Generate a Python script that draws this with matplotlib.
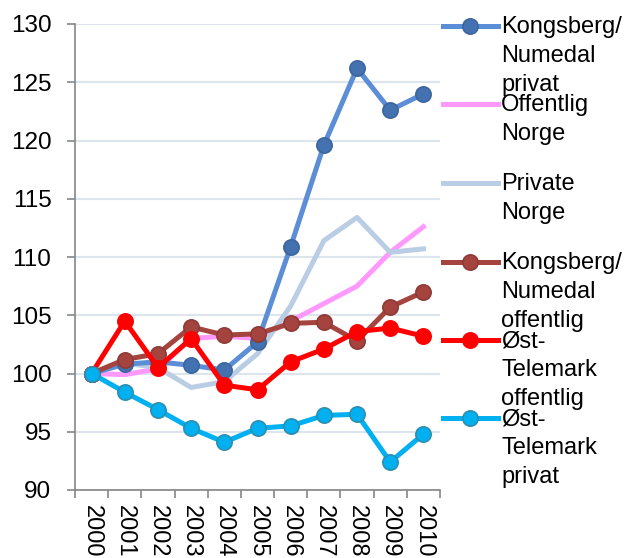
import numpy as np
import matplotlib
matplotlib.use("Agg")
import matplotlib.pyplot as plt
from matplotlib.lines import Line2D

plt.rcParams['font.family'] = ['Liberation Sans', 'DejaVu Sans']

years = ['2000', '2001', '2002', '2003', '2004', '2005',
         '2006', '2007', '2008', '2009', '2010']

kongsberg_privat = [100, 100.8, 101.0, 100.7, 100.3, 102.7, 110.9, 119.6, 126.2, 122.6, 124.0]
offentlig_norge = [100, 99.9, 100.4, 103.0, 103.2, 103.0, 104.5, 106.0, 107.5, 110.4, 112.6]
private_norge = [100, 100.9, 100.5, 98.8, 99.3, 101.7, 105.8, 111.4, 113.4, 110.4, 110.7]
kongsberg_offentlig = [100, 101.2, 101.7, 104.0, 103.3, 103.4, 104.3, 104.4, 102.8, 105.7, 107.0]
telemark_offentlig = [100, 104.5, 100.5, 103.0, 99.0, 98.6, 101.0, 102.1, 103.6, 103.9, 103.2]
telemark_privat = [100, 98.4, 96.9, 95.3, 94.1, 95.3, 95.5, 96.4, 96.5, 92.4, 94.8]

labels = ['Kongsberg/\nNumedal\nprivat', 'Offentlig\nNorge', 'Private\nNorge',
          'Kongsberg/\nNumedal\noffentlig', 'Øst-\nTelemark\noffentlig',
          'Øst-\nTelemark\nprivat']

series = [kongsberg_privat, offentlig_norge, private_norge,
          kongsberg_offentlig, telemark_offentlig, telemark_privat]
line_colors = ['#5B8ED6', '#FF99FF', '#B9CDE5', '#A5443F', '#FF0000', '#00B0F0']
marker_face = ['#4471B0', None, None, '#A5443F', '#FF0000', '#00B0F0']
marker_edge = ['#3D669E', None, None, '#8E3A36', '#FF0000', '#2E8EAE']

fig = plt.figure(figsize=(6.26, 5.58), dpi=100)
W, H = 626, 558
ax = fig.add_axes([75 / W, 1 - 490 / H, 365 / W, 466 / H])

x = np.arange(len(years))
for vals, lc, mf, me in zip(series, line_colors, marker_face, marker_edge):
    if mf is None:
        ax.plot(x, vals, color=lc, lw=3.6, zorder=2)
    else:
        ax.plot(x, vals, color=lc, lw=3.6, marker='o', ms=11,
                markerfacecolor=mf, markeredgecolor=me, markeredgewidth=1.2, zorder=3)

ax.set_xlim(-0.5, len(years) - 0.5)
ax.set_ylim(90, 130)
ax.set_yticks(np.arange(90, 131, 5))
ax.set_xticks(x)
ax.set_xticklabels(years, rotation=-90, fontsize=17)
ax.tick_params(axis='y', labelsize=17.5, length=6, width=1.2, color='#868686', pad=11)
ax.set_xticks(np.arange(-0.5, len(years)), minor=True)
ax.tick_params(axis='x', which='major', length=0, pad=11)
ax.tick_params(axis='x', which='minor', length=6, width=1.2, color='#868686')
ax.yaxis.grid(True, color='#DCE4EE', lw=1.5)
ax.set_axisbelow(True)
for s in ['top', 'right']:
    ax.spines[s].set_visible(False)
for s in ['left', 'bottom']:
    ax.spines[s].set_color('#868686')
    ax.spines[s].set_linewidth(1.2)

# legend drawn by hand, handle next to the first text line
entry_y = [26, 104, 183, 262, 340, 418]
for lab, yy, lc, mf, me in zip(labels, entry_y, line_colors, marker_face, marker_edge):
    yf = 1 - yy / H
    fig.add_artist(Line2D([443 / W, 498 / W], [yf, yf], color=lc, lw=3.6,
                          transform=fig.transFigure))
    if mf is not None:
        fig.add_artist(Line2D([470 / W], [yf], marker='o', ms=11, color=lc,
                              markerfacecolor=mf, markeredgecolor=me,
                              markeredgewidth=1.2, transform=fig.transFigure))
    fig.text(501 / W, 1 - (yy - 10) / H, lab, fontsize=17, va='top', ha='left',
             linespacing=1.42)

fig.savefig('out.png', dpi=100)
